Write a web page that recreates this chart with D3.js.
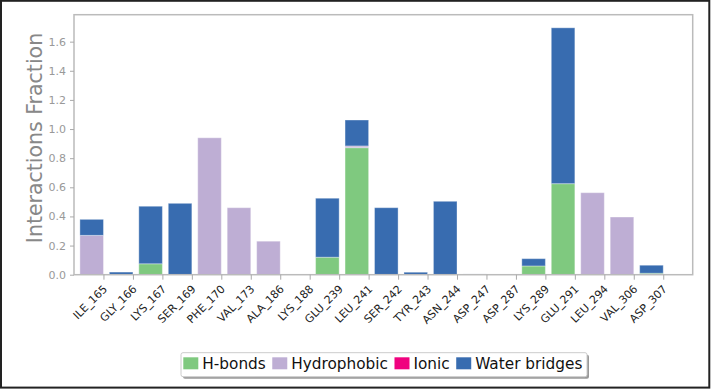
<!DOCTYPE html>
<html>
<head>
<meta charset="utf-8">
<script src="https://cdn.jsdelivr.net/npm/d3@7"></script>
<style>
  body { margin: 0; background: #fff; }
  text { font-family: "DejaVu Sans", sans-serif; }
</style>
</head>
<body>
<div id="chart"></div>
<script>
// residues on the x axis
var residues = ["ILE_165", "GLY_166", "LYS_167", "SER_169", "PHE_170", "VAL_173", "ALA_186",
  "LYS_188", "GLU_239", "LEU_241", "SER_242", "TYR_243", "ASN_244", "ASP_247", "ASP_287",
  "LYS_289", "GLU_291", "LEU_294", "VAL_306", "ASP_307"];

// interaction fractions, one value per residue
var hbonds      = [0, 0, 0.075, 0, 0, 0, 0, 0, 0.12, 0.872, 0, 0, 0, 0, 0, 0.06, 0.625, 0, 0, 0.01];
var hydrophobic = [0.27, 0, 0, 0, 0.94, 0.46, 0.23, 0, 0, 0.012, 0, 0, 0, 0, 0, 0, 0, 0.563, 0.396, 0];
var ionic       = [0, 0, 0, 0, 0, 0, 0, 0, 0, 0, 0, 0, 0, 0, 0, 0, 0, 0, 0, 0];
var water       = [0.11, 0.018, 0.395, 0.49, 0, 0, 0, 0, 0.405, 0.178, 0.46, 0.017, 0.504, 0.005, 0, 0.05, 1.07, 0, 0, 0.055];

var yTicks = [0, 0.2, 0.4, 0.6, 0.8, 1.0, 1.2, 1.4, 1.6];

var keys = ["H-bonds", "Hydrophobic", "Ionic", "Water bridges"];
var colors = { "H-bonds": "#7fc97f", "Hydrophobic": "#beaed4", "Ionic": "#f0027f", "Water bridges": "#386cb0" };

var w = 711, h = 389;
var plotL = 74, plotR = 692.7, plotT = 14.7, plotB = 274.7;

var rows = residues.map(function (r, i) {
  return { name: r, i: i, "H-bonds": hbonds[i], "Hydrophobic": hydrophobic[i], "Ionic": ionic[i], "Water bridges": water[i] };
});

var svg = d3.select("#chart").append("svg").attr("width", w).attr("height", h);

// outer figure border
svg.append("rect")
  .attr("x", 1).attr("y", 0.8).attr("width", 708.3).attr("height", 386.8)
  .attr("fill", "none").attr("stroke", "#222").attr("stroke-width", 2);

var x = d3.scaleLinear().domain([-0.2, 20.8]).range([plotL, plotR]);
var y = d3.scaleLinear().domain([0, 1.785]).range([plotB, plotT]);

var stacked = d3.stack().keys(keys)(rows);

svg.append("g").selectAll("g")
  .data(stacked)
  .enter()
  .append("g")
  .attr("fill", function (s) { return colors[s.key]; })
  .selectAll("rect")
  .data(function (s) { return s.filter(function (d) { return d[1] - d[0] > 0; }); })
  .enter()
  .append("rect")
  .attr("x", function (d) { return x(d.data.i); })
  .attr("width", function (d) { return x(d.data.i + 0.8) - x(d.data.i); })
  .attr("y", function (d) { return y(d[1]); })
  .attr("height", function (d) { return y(d[0]) - y(d[1]); })
  .attr("stroke", "#fff").attr("stroke-opacity", 0.35).attr("stroke-width", 1);

// frame
svg.append("rect")
  .attr("x", plotL).attr("y", plotT).attr("width", plotR - plotL).attr("height", plotB - plotT)
  .attr("fill", "none").attr("stroke", "#bbb").attr("stroke-width", 1.5);

// y axis
var yAxis = svg.append("g")
  .attr("transform", "translate(" + plotL + ",0)")
  .call(d3.axisLeft(y).tickValues(yTicks).tickSize(4).tickPadding(4).tickFormat(d3.format(".1f")));
yAxis.select(".domain").remove();
yAxis.selectAll("line").attr("stroke", "#aaa");
yAxis.selectAll("text").attr("fill", "#999").attr("font-size", 11).attr("font-family", "DejaVu Sans");

// x axis, ticks at the right edge of each bar
var xAxis = svg.append("g")
  .attr("transform", "translate(0," + plotB + ")")
  .call(d3.axisBottom(x).tickValues(residues.map(function (r, i) { return i + 0.8; }))
    .tickSize(5).tickFormat(function (v) { return residues[Math.round(v - 0.8)]; }));
xAxis.select(".domain").remove();
xAxis.selectAll("line").attr("stroke", "#aaa");
xAxis.selectAll("text")
  .attr("fill", "#222").attr("font-size", 11).attr("font-family", "DejaVu Sans")
  .attr("text-anchor", "end")
  .attr("dy", 0)
  .attr("transform", "translate(4,15) rotate(-45)")
  .attr("y", 0).attr("x", 0);

// y label
svg.append("text")
  .attr("transform", "translate(42,138) rotate(-90)")
  .attr("text-anchor", "middle")
  .attr("fill", "#888")
  .attr("font-size", 20.5)
  .text("Interactions Fraction");

// legend
var legend = svg.append("g");
legend.append("rect")
  .attr("x", 183).attr("y", 354.7).attr("width", 406).attr("height", 24).attr("rx", 2)
  .attr("fill", "#999");
legend.append("rect")
  .attr("x", 181).attr("y", 352.7).attr("width", 406).attr("height", 24).attr("rx", 2)
  .attr("fill", "#fff").attr("stroke", "#ccc").attr("stroke-width", 1);

var lx = 202.3;
keys.forEach(function (k) {
  legend.append("rect")
    .attr("x", lx - 19).attr("y", 357.3).attr("width", 15).attr("height", 12)
    .attr("fill", colors[k]);
  var t = legend.append("text")
    .attr("x", lx).attr("y", 369.3)
    .attr("font-size", 15.3).attr("fill", "#111")
    .text(k);
  lx += t.node().getComputedTextLength() + 25.5;
});
</script>
</body>
</html>
